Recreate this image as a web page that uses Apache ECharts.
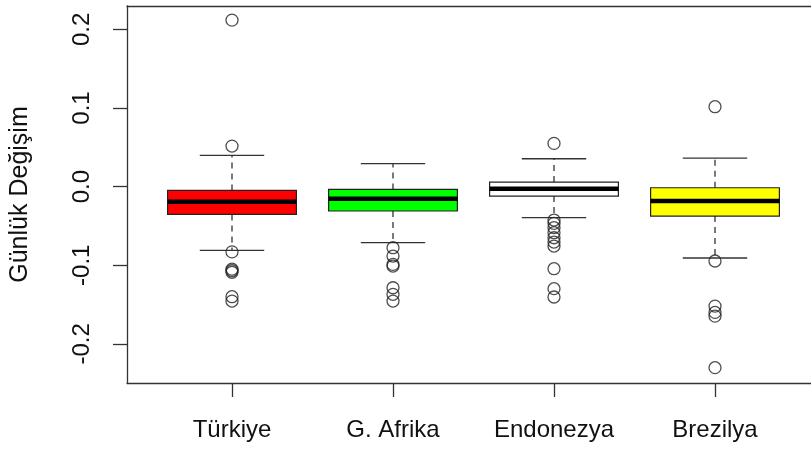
<!DOCTYPE html>
<html>
<head>
<meta charset="utf-8">
<script src="https://cdn.jsdelivr.net/npm/echarts@6/dist/echarts.min.js"></script>
<style>html,body{margin:0;padding:0;background:#fff;}#c{width:811px;height:450px;}</style>
</head>
<body>
<div id="c"></div>
<script>
// ---- data ----
var categories = ['Türkiye', 'G. Afrika', 'Endonezya', 'Brezilya'];
var lowerWhisker = [-0.0811, -0.0713, -0.0395, -0.0908];
var q1 = [-0.0353, -0.0310, -0.0120, -0.0374];
var median = [-0.0192, -0.0154, -0.0027, -0.0183];
var q3 = [-0.0048, -0.0035, 0.0058, -0.0014];
var upperWhisker = [0.0397, 0.0292, 0.0355, 0.0363];
var outliersTurkiye = [0.2118, 0.0516, -0.083, -0.105, -0.107, -0.109, -0.140, -0.1456];
var outliersAfrika = [-0.0777, -0.0883, -0.0989, -0.101, -0.1286, -0.137, -0.1456];
var outliersEndonezya = [0.055, -0.0425, -0.0467, -0.0522, -0.0586, -0.065, -0.0705, -0.0756, -0.1044, -0.1298, -0.1404];
var outliersBrezilya = [0.1017, -0.0946, -0.152, -0.160, -0.1647, -0.2303];
var yTicks = [-0.2, -0.1, 0.0, 0.1, 0.2];
var yTickLabels = ['-0.2', '-0.1', '0.0', '0.1', '0.2'];

// ---- styles ----
var boxColors = ['#ff0000', '#00ff00', '#ffffff', '#ffff00'];
var FONT = 'Liberation Sans, Arial, sans-serif';
var Y_MIN = -0.2498, Y_MAX = 0.2298;
var FRAME = { color: '#333', width: 1.3 };

var boxData = categories.map(function (c, i) {
  return [i, lowerWhisker[i], q1[i], median[i], q3[i], upperWhisker[i]];
});
var outlierGroups = [outliersTurkiye, outliersAfrika, outliersEndonezya, outliersBrezilya];
var outlierData = [];
outlierGroups.forEach(function (g, i) {
  g.forEach(function (v) { outlierData.push([i, v]); });
});

function renderBox(params, api) {
  var i = api.value(0);
  var band = api.size([1, 0])[0];
  var bw = band * 0.8, sw = band * 0.4;
  var pLo = api.coord([i, api.value(1)]);
  var pQ1 = api.coord([i, api.value(2)]);
  var pMed = api.coord([i, api.value(3)]);
  var pQ3 = api.coord([i, api.value(4)]);
  var pHi = api.coord([i, api.value(5)]);
  var x = pMed[0];
  var wStyle = { stroke: '#333', lineWidth: 1.3, lineDash: [6, 5] };
  var sStyle = { stroke: '#333', lineWidth: 1.3 };
  return {
    type: 'group',
    children: [
      { type: 'line', shape: { x1: x, y1: pQ3[1], x2: x, y2: pHi[1] }, style: wStyle },
      { type: 'line', shape: { x1: x, y1: pQ1[1], x2: x, y2: pLo[1] }, style: wStyle },
      { type: 'line', shape: { x1: x - sw / 2, y1: pHi[1], x2: x + sw / 2, y2: pHi[1] }, style: sStyle },
      { type: 'line', shape: { x1: x - sw / 2, y1: pLo[1], x2: x + sw / 2, y2: pLo[1] }, style: sStyle },
      { type: 'rect', shape: { x: x - bw / 2, y: pQ3[1], width: bw, height: pQ1[1] - pQ3[1] },
        style: { fill: boxColors[params.dataIndex], stroke: '#222', lineWidth: 1.2 } },
      { type: 'line', shape: { x1: x - bw / 2, y1: pMed[1], x2: x + bw / 2, y2: pMed[1] },
        style: { stroke: '#000', lineWidth: 4.5 } }
    ]
  };
}

var chart = echarts.init(document.getElementById('c'), null, { renderer: 'canvas' });
chart.setOption({
  animation: false,
  backgroundColor: '#fff',
  grid: [
    { left: 125, top: 6, right: -40, height: 377, show: false },
    { left: 151.5, top: 6, width: 644, height: 377, show: false }
  ],
  xAxis: [
    { type: 'value', gridIndex: 0, position: 'bottom', min: 0, max: 1,
      axisLine: { show: true, onZero: false, lineStyle: FRAME }, axisTick: { show: false }, axisLabel: { show: false }, splitLine: { show: false } },
    { type: 'category', gridIndex: 1, data: categories, boundaryGap: true,
      axisLine: { show: false, onZero: false },
      axisTick: { show: true, alignWithLabel: true, length: 14, lineStyle: { color: '#333', width: 1.3 } },
      axisLabel: { fontSize: 24, color: '#111', fontFamily: FONT, margin: 35 },
      splitLine: { show: false } },
    { type: 'value', gridIndex: 0, position: 'top', min: 0, max: 1,
      axisLine: { show: true, onZero: false, lineStyle: FRAME }, axisTick: { show: false }, axisLabel: { show: false }, splitLine: { show: false } }
  ],
  yAxis: [
    { type: 'value', gridIndex: 0, min: Y_MIN, max: Y_MAX, position: 'left',
      name: 'Günlük Değişim', nameLocation: 'middle', nameGap: 94, nameRotate: 90,
      nameTextStyle: { fontSize: 25, color: '#111', fontFamily: FONT },
      axisLine: { show: true, onZero: false, lineStyle: FRAME },
      axisTick: { show: true, length: 14, customValues: yTicks, lineStyle: { color: '#333', width: 1.3 } },
      axisLabel: { show: true, rotate: 90, fontSize: 24, color: '#111', fontFamily: FONT, margin: 33,
        customValues: yTicks,
        formatter: function (v) { var k = yTicks.indexOf(Math.round(v * 10) / 10); return k >= 0 ? yTickLabels[k] : ''; } },
      splitLine: { show: false } },
    { type: 'value', gridIndex: 1, min: Y_MIN, max: Y_MAX, show: false, axisLine: { onZero: false }, splitLine: { show: false } }
  ],
  series: [
    { type: 'custom', xAxisIndex: 1, yAxisIndex: 1, data: boxData, renderItem: renderBox, z: 2,
      encode: { x: 0, y: [1, 2, 3, 4, 5] } },
    { type: 'scatter', xAxisIndex: 1, yAxisIndex: 1, data: outlierData, symbol: 'circle', symbolSize: 12, z: 3,
      itemStyle: { color: 'transparent', borderColor: '#222', borderWidth: 1.3 } }
  ]
});
</script>
</body>
</html>
